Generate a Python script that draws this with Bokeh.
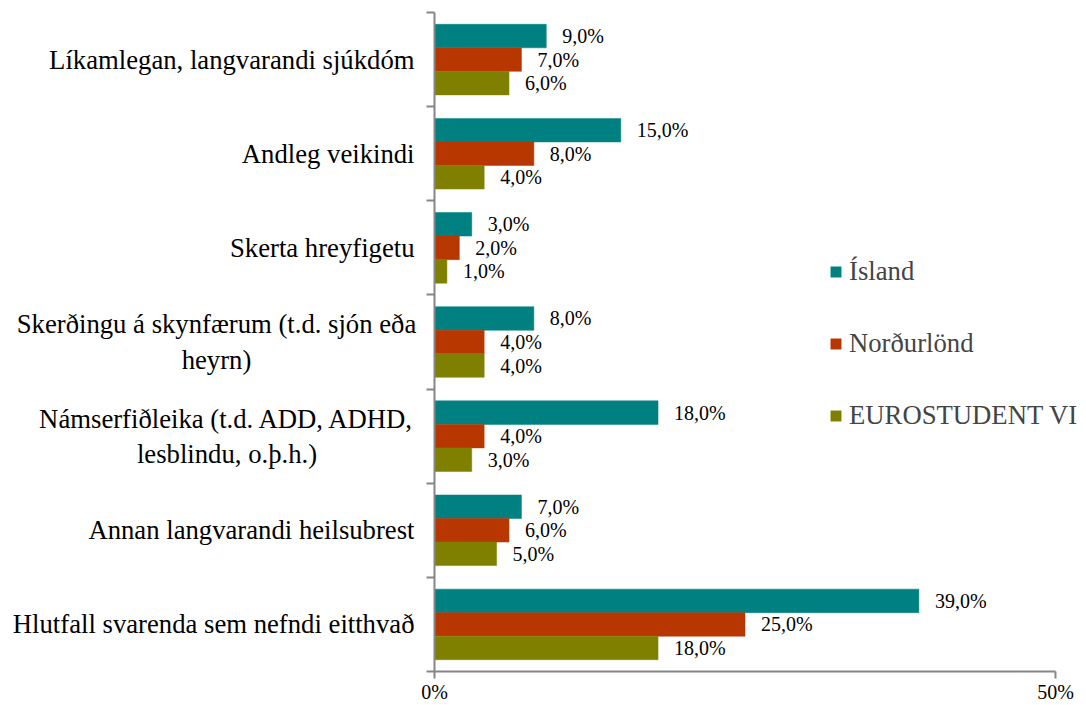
from bokeh.plotting import figure
from bokeh.layouts import row
from bokeh.models import (ColumnDataSource, Range1d, FixedTicker, Legend, LegendItem,
                          LinearAxis)
from bokeh.core.properties import value
from bokeh.embed import file_html
from bokeh.resources import INLINE

categories = [
    "Líkamlegan, langvarandi sjúkdóm",
    "Andleg veikindi",
    "Skerta hreyfigetu",
    "Skerðingu á skynfærum (t.d. sjón eða\nheyrn)",
    "Námserfiðleika (t.d. ADD, ADHD,\nlesblindu, o.þ.h.)",
    "Annan langvarandi heilsubrest",
    "Hlutfall svarenda sem nefndi eitthvað",
]
series_names = ["Ísland", "Norðurlönd", "EUROSTUDENT VI"]
island = [9, 15, 3, 8, 18, 7, 39]
nordurlond = [7, 8, 2, 4, 4, 6, 25]
eurostudent = [6, 4, 1, 4, 3, 5, 18]
colors = ["#008080", "#B83700", "#808000"]
x_ticks = [0, 50]
x_tick_labels = ["0%", "50%"]

FONT = "Liberation Serif"
LABEL_FS = 26.7
n = len(categories)
centers = [n - i - 0.5 for i in range(n)]
offsets = [0.25, 0.0, -0.25]

W, H = 1084, 705
FRAME_L, FRAME_T, FRAME_B = 434, 12, 671
LEFT_W = 420
AX_END_PX = 1055
px_per_unit = (AX_END_PX - FRAME_L) / 50.0
x_end = (W - FRAME_L) / px_per_unit

yr = Range1d(0, n)

# ---- left panel holding the category labels ----
lf = figure(width=LEFT_W, height=H, output_backend="svg", toolbar_location=None,
            x_range=Range1d(0, LEFT_W), y_range=yr,
            min_border_left=0, min_border_right=0, min_border_top=FRAME_T,
            min_border_bottom=H - FRAME_B,
            x_axis_location=None, y_axis_location=None)
lf.outline_line_color = None
lf.xgrid.visible = False
lf.ygrid.visible = False

label_right = 414
first_line_width = {3: 396, 4: 375}
lx, ly, lt, la = [], [], [], []
for i, (c, lab) in enumerate(zip(centers, categories)):
    ly.append(c)
    lt.append(lab)
    if "\n" in lab:
        lx.append(label_right - first_line_width[i] / 2)
        la.append("center")
    else:
        lx.append(label_right)
        la.append("right")
lsrc = ColumnDataSource(dict(x=lx, y=ly, t=lt, a=la))
lf.text(x="x", y="y", text="t", text_align="a", source=lsrc,
        text_baseline="middle", text_font=value(FONT),
        text_font_size=f"{LABEL_FS}px", text_color="black", text_line_height=1.17)

# ---- main chart ----
p = figure(width=W - LEFT_W, height=H, output_backend="svg", toolbar_location=None,
           x_range=Range1d(0, x_end), y_range=yr,
           min_border_left=FRAME_L - LEFT_W, min_border_right=0, min_border_top=FRAME_T,
           min_border_bottom=H - FRAME_B,
           y_axis_location=None, x_axis_location=None)
p.outline_line_color = None
p.xgrid.visible = False
p.ygrid.visible = False

renderers = []
for vals, name, col, off in zip([island, nordurlond, eurostudent], series_names, colors, offsets):
    src = ColumnDataSource(dict(
        y=[c + off for c in centers],
        x=vals,
        lab=[f"{v:.1f}".replace(".", ",") + "%" for v in vals],
    ))
    r = p.hbar(y="y", right="x", left=0, height=0.25, source=src,
               fill_color=col, line_color=col, line_width=0.5)
    renderers.append((name, r))
    p.text(x="x", y="y", text="lab", source=src, x_offset=16,
           text_baseline="middle", text_align="left",
           text_font=value(FONT), text_font_size="20px", text_color="black")

yaxis = LinearAxis(
    ticker=FixedTicker(ticks=centers, minor_ticks=list(range(n + 1))),
    major_label_overrides={c: "" for c in centers},
    axis_line_color="#868686", axis_line_width=2,
    major_tick_out=0, major_tick_in=0,
    minor_tick_out=8, minor_tick_in=0,
    minor_tick_line_color="#868686", minor_tick_line_width=2,
    major_label_text_font_size="1px", major_label_standoff=0,
)
p.add_layout(yaxis, "left")

xaxis = LinearAxis(
    ticker=FixedTicker(ticks=x_ticks, minor_ticks=[]),
    bounds=(0, 50),
    major_label_overrides={t: l for t, l in zip(x_ticks, x_tick_labels)},
    axis_line_color="#868686", axis_line_width=2,
    major_tick_out=7, major_tick_in=0,
    major_tick_line_color="#868686", major_tick_line_width=2,
    major_label_text_font=FONT, major_label_text_font_size="20px",
    major_label_text_color="black", major_label_standoff=2,
)
p.add_layout(xaxis, "below")

legend = Legend(items=[LegendItem(label=nm, renderers=[r]) for nm, r in renderers],
                location=(395, 240), orientation="vertical",
                glyph_width=13, glyph_height=13, label_standoff=7,
                label_height=30, spacing=41, padding=0, margin=0,
                label_text_font=FONT, label_text_font_size=f"{LABEL_FS}px",
                border_line_color=None, background_fill_alpha=0)
p.add_layout(legend)

layout = row(lf, p, spacing=0)
open("out.html", "w").write(file_html(layout, INLINE))
